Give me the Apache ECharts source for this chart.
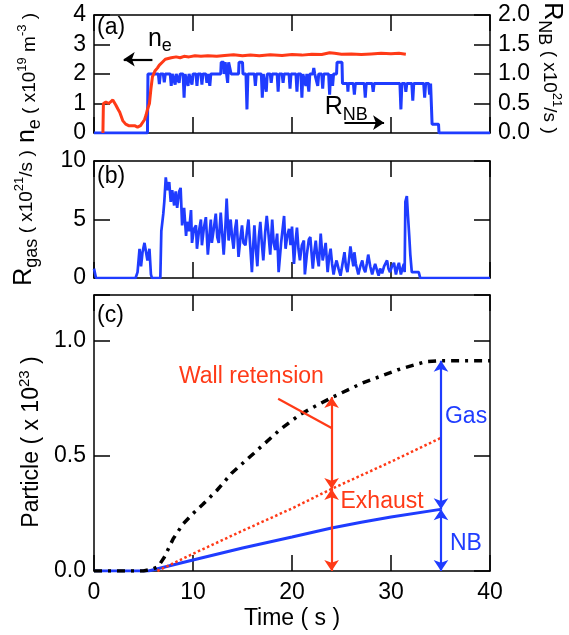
<!DOCTYPE html>
<html>
<head>
<meta charset="utf-8">
<script src="https://cdn.jsdelivr.net/npm/echarts/dist/echarts.min.js"></script>
<style>
html, body { margin: 0; padding: 0; background: #fff; }
#main { width: 569px; height: 635px; }
</style>
</head>
<body>
<div id="main"></div>
<script>
// (a) electron density n_e (x10^19 m^-3), [time s, value]
var neData = [[0.9,0],[0.95,1.0],[1.2,1.05],[1.5,1.0],[1.9,1.12],[2.2,0.95],[2.4,0.82],[2.6,0.7],[2.9,0.42],[3.2,0.3],[3.5,0.25],[3.7,0.22],[4.1,0.25],[4.4,0.2],[4.7,0.25],[4.9,0.3],[5.1,0.45],[5.25,0.6],[5.4,0.8],[5.6,1.0],[5.75,1.5],[5.9,1.9],[6.15,2.1],[6.4,2.2],[6.6,2.3],[6.9,2.4],[7.2,2.5],[7.4,2.52],[7.8,2.55],[8.3,2.58],[8.7,2.55],[9.1,2.6],[9.6,2.58],[10.2,2.62],[10.8,2.6],[11.5,2.62],[12.4,2.6],[13.2,2.63],[14.1,2.65],[15,2.62],[15.8,2.64],[16.7,2.62],[17.8,2.65],[19,2.63],[20,2.66],[21,2.64],[22,2.67],[23,2.66],[23.8,2.72],[24.3,2.7],[25,2.67],[26,2.68],[27,2.66],[28,2.68],[29,2.7],[30,2.69],[30.8,2.7],[31.5,2.67]];

// (a) NB particle rate R_NB (x10^21/s)
var nbRate = [[0,0],[5.4,0],[5.45,1.0],[6.5,1.0],[6.6,0.83],[6.7,1.0],[7.0,1.0],[7.1,0.86],[7.2,1.0],[7.7,1.0],[7.8,0.8],[7.9,1.0],[8.1,1.0],[8.2,0.82],[8.3,1.0],[8.5,1.0],[8.6,0.85],[8.7,1.0],[9.0,1.0],[9.1,0.6],[9.2,1.0],[9.4,1.0],[9.5,0.8],[9.6,1.0],[9.8,1.0],[9.9,0.82],[10.0,1.0],[10.3,1.0],[10.4,0.8],[10.5,1.0],[10.8,1.0],[10.9,0.82],[11.0,1.0],[11.3,1.0],[11.4,0.85],[11.5,1.0],[11.6,1.0],[11.7,0.8],[11.8,1.0],[12.8,1.0],[12.85,1.2],[13.1,1.2],[13.15,1.0],[13.25,1.2],[13.4,1.2],[13.5,0.85],[13.6,1.2],[13.8,1.2],[13.85,1.0],[14.6,1.0],[14.65,1.2],[15.0,1.2],[15.05,1.0],[15.35,1.0],[15.45,0.4],[15.55,1.0],[16.2,1.0],[16.3,0.8],[16.4,1.0],[16.9,1.0],[17.0,0.6],[17.1,1.0],[17.3,1.0],[17.4,0.7],[17.5,1.0],[17.8,1.0],[17.9,0.85],[18.0,1.0],[18.5,1.0],[18.6,0.7],[18.7,1.0],[19.0,1.0],[19.1,0.85],[19.2,1.0],[19.7,1.0],[19.8,0.75],[19.9,1.0],[20.4,1.0],[20.5,0.7],[20.6,1.0],[20.9,1.0],[21.0,0.6],[21.1,1.0],[21.3,1.0],[21.4,0.8],[21.5,1.0],[21.6,1.0],[21.7,0.7],[21.8,1.0],[22.1,1.0],[22.2,1.1],[22.3,1.0],[22.5,1.0],[22.6,0.8],[22.7,1.0],[23.0,1.0],[23.1,0.75],[23.2,1.0],[23.7,1.0],[23.8,0.65],[23.9,1.0],[24.0,1.0],[24.1,0.8],[24.2,1.0],[24.5,1.0],[24.55,1.2],[25.05,1.2],[25.1,0.84],[25.6,0.84],[25.65,0.7],[25.7,0.84],[26.2,0.84],[26.3,0.65],[26.4,0.84],[27.3,0.84],[27.4,0.6],[27.5,0.84],[28.1,0.84],[28.2,0.7],[28.3,0.84],[30.9,0.84],[31.0,0.4],[31.1,0.84],[31.4,0.84],[31.5,0.7],[31.6,0.84],[32.1,0.84],[32.2,0.55],[32.3,0.84],[33.3,0.84],[33.4,0.6],[33.5,0.84],[33.8,0.84],[33.9,0.65],[34.0,0.84],[34.1,0.84],[34.15,0.15],[34.8,0.15],[34.85,0],[40,0]];

// (b) gas puff rate R_gas (x10^21/s)
var gasRate = [[0,0.8],[0.15,0.8],[0.2,0],[4.2,0],[4.4,0.5],[4.6,2.5],[4.75,1.0],[4.9,2.2],[5.1,3.0],[5.25,2.9],[5.4,1.5],[5.6,2.5],[5.75,0.3],[5.85,0],[6.7,0],[6.8,4.0],[7.0,5.5],[7.1,6.5],[7.25,8.6],[7.4,7.5],[7.6,8.2],[7.75,6.5],[7.9,7.5],[8.1,6.2],[8.25,7.4],[8.4,6.0],[8.6,7.4],[8.75,7.7],[8.9,4.5],[9.1,6.0],[9.3,3.6],[9.4,4.8],[9.6,4.0],[9.8,5.8],[9.9,3.0],[10.1,4.2],[10.3,4.5],[10.4,2.5],[10.6,4.0],[10.8,5.0],[10.9,2.8],[11.1,4.3],[11.3,5.2],[11.5,2.0],[11.7,4.0],[11.8,5.0],[11.9,3.0],[12.1,4.2],[12.3,5.5],[12.45,3.5],[12.6,3.0],[12.8,5.6],[12.95,3.8],[13.1,2.0],[13.25,4.0],[13.4,6.8],[13.6,3.2],[13.8,5.0],[13.95,3.5],[14.1,2.5],[14.25,4.2],[14.4,5.0],[14.6,1.8],[14.8,3.5],[14.95,4.5],[15.1,3.0],[15.3,2.8],[15.45,4.0],[15.6,5.0],[15.8,2.5],[15.95,0.5],[16.1,3.0],[16.2,4.5],[16.35,2.5],[16.5,1.0],[16.65,3.5],[16.8,4.8],[16.95,3.0],[17.1,1.5],[17.3,4.0],[17.45,5.3],[17.6,4.0],[17.8,2.0],[18.0,5.0],[18.15,3.0],[18.3,2.4],[18.5,3.8],[18.65,0.5],[18.9,3.0],[19.2,5.3],[19.35,2.5],[19.5,3.5],[19.7,4.2],[19.85,2.8],[20.0,4.4],[20.2,1.2],[20.35,3.0],[20.5,4.3],[20.65,2.5],[20.8,1.5],[21.0,2.8],[21.2,3.2],[21.3,0.3],[21.5,2.0],[21.7,3.3],[21.85,3.5],[22.1,0.8],[22.25,2.2],[22.4,3.2],[22.55,1.8],[22.7,1.0],[22.9,3.8],[23.1,1.5],[23.25,2.2],[23.4,3.0],[23.6,0.5],[23.75,1.8],[23.9,2.5],[24.05,1.2],[24.2,0.3],[24.35,1.0],[24.5,1.5],[24.7,0.8],[24.9,0.2],[25.1,1.2],[25.3,2.2],[25.45,1.0],[25.6,0.5],[25.75,1.5],[25.9,2.7],[26.05,1.8],[26.2,1.0],[26.3,2.2],[26.45,1.2],[26.7,0.3],[26.9,1.0],[27.1,1.5],[27.25,0.8],[27.4,0.5],[27.55,1.2],[27.7,2.0],[27.9,1.0],[28.1,0.3],[28.25,0.8],[28.4,1.2],[28.6,0.6],[28.75,0.2],[28.9,0.8],[29.1,0.4],[29.3,1.0],[29.6,1.5],[29.75,0.8],[29.9,0.5],[30.1,1.0],[30.3,1.3],[30.5,0.3],[30.65,0.9],[30.8,1.3],[31.0,0.3],[31.15,0.8],[31.3,1.2],[31.38,0.5],[31.45,6.5],[31.6,7.0],[31.7,5.5],[31.85,3.5],[31.95,2.0],[32.1,0.5],[32.8,0.5],[32.95,0],[40,0]];

// (c) cumulative particles (x10^23)
var gasTotal = [[0,0],[5,0],[6,0.01],[6.5,0.02],[7.1,0.06],[8,0.14],[9,0.205],[10,0.25],[11,0.29],[12.4,0.35],[13.9,0.425],[16.1,0.51],[18.8,0.615],[20.8,0.68],[22.5,0.72],[24.1,0.756],[27.1,0.817],[30.7,0.875],[33.5,0.91],[34.9,0.914],[40,0.914]];
var exhaustTotal = [[6.4,0],[10,0.075],[15,0.175],[20,0.272],[24,0.357],[30,0.475],[35,0.578]];
var nbTotal = [[0,0],[5.5,0],[10,0.048],[15,0.1],[20,0.148],[24,0.187],[27,0.212],[30,0.235],[35,0.268]];

// (c) annotation arrows: time and levels
var wallT = 24, wallLevels = [0, 0.357, 0.756];
var gasT = 35.05, gasLevels = [0, 0.268, 0.914];

var xTicks = [0, 10, 20, 30, 40];

var blue = '#1f3cff';
var red = '#ff3a17';
var ff = '"Liberation Sans", Arial, Helvetica, sans-serif';

var chart = echarts.init(document.getElementById('main'));

function xAx(g, pos, labels, extra) {
    var a = {
        type: 'value', gridIndex: g, position: pos,
        min: xTicks[0], max: xTicks[xTicks.length - 1], interval: 10,
        axisLine: { show: true, onZero: false, lineStyle: { color: '#000', width: 1.5 } },
        axisTick: { show: true, inside: true, length: 16, lineStyle: { color: '#000', width: 1.5 } },
        axisLabel: { show: labels, color: '#000', fontSize: 23, fontFamily: ff, margin: 10 },
        splitLine: { show: false }
    };
    return Object.assign(a, extra || {});
}

function yAx(g, pos, min, max, step, labels, fmt) {
    return {
        type: 'value', gridIndex: g, position: pos,
        min: min, max: max, interval: step,
        axisLine: { show: true, onZero: false, lineStyle: { color: '#000', width: 1.5 } },
        axisTick: { show: true, inside: true, length: 16, lineStyle: { color: '#000', width: 1.5 } },
        axisLabel: { show: labels, color: '#000', fontSize: 23, fontFamily: ff, margin: 8, formatter: fmt },
        splitLine: { show: false }
    };
}

function onStep(step, digits) {
    return function (v) {
        var r = Math.round(v / step);
        if (Math.abs(r * step - v) > 1e-6) return '';
        return digits ? v.toFixed(digits) : String(v);
    };
}

function arrows(color, pairs, sym, xi, yi) {
    return {
        type: 'lines', coordinateSystem: 'cartesian2d', xAxisIndex: xi, yAxisIndex: yi,
        symbol: sym, symbolSize: 11, silent: true, z: 5,
        lineStyle: { color: color, width: 2.2, opacity: 1, curveness: 0 },
        data: pairs.map(function (p) { return { coords: p }; })
    };
}

var option = {
    animation: false,
    backgroundColor: '#fff',
    textStyle: { fontFamily: ff },
    grid: [
        { left: 94, width: 396, top: 15, height: 118, outerBoundsMode: 'none' },
        { left: 94, width: 396, top: 161, height: 117, outerBoundsMode: 'none' },
        { left: 94, width: 396, top: 295, height: 276, outerBoundsMode: 'none' }
    ],
    xAxis: [
        xAx(0, 'bottom', false), xAx(0, 'top', false),
        xAx(1, 'bottom', false), xAx(1, 'top', false),
        xAx(2, 'bottom', true, {
            name: 'Time ( s )', nameLocation: 'middle', nameGap: 36,
            nameTextStyle: { color: '#000', fontSize: 23, fontFamily: ff }
        }),
        xAx(2, 'top', false)
    ],
    yAxis: [
        yAx(0, 'left', 0, 4, 1, true, onStep(1, 0)),
        yAx(0, 'right', 0, 2, 0.5, true, onStep(0.5, 1)),
        yAx(1, 'left', 0, 10, 5, true, onStep(5, 0)),
        yAx(1, 'right', 0, 10, 5, false),
        yAx(2, 'left', 0, 1.2, 0.5, true, onStep(0.5, 1)),
        yAx(2, 'right', 0, 1.2, 0.5, false)
    ],
    series: [
        { type: 'line', xAxisIndex: 0, yAxisIndex: 1, data: nbRate, showSymbol: false, symbol: 'none',
          lineStyle: { color: blue, width: 3 }, itemStyle: { color: blue } },
        { type: 'line', xAxisIndex: 0, yAxisIndex: 0, data: neData, showSymbol: false, symbol: 'none',
          lineStyle: { color: red, width: 3 }, itemStyle: { color: red } },
        { type: 'line', xAxisIndex: 2, yAxisIndex: 2, data: gasRate, showSymbol: false, symbol: 'none',
          lineStyle: { color: blue, width: 2.7 }, itemStyle: { color: blue } },
        { type: 'line', xAxisIndex: 4, yAxisIndex: 4, data: nbTotal, showSymbol: false, symbol: 'none',
          lineStyle: { color: blue, width: 3 }, itemStyle: { color: blue } },
        { type: 'line', xAxisIndex: 4, yAxisIndex: 4, data: exhaustTotal, showSymbol: false, symbol: 'none',
          lineStyle: { color: red, width: 2.5, type: [2.5, 2.5] }, itemStyle: { color: red } },
        { type: 'line', xAxisIndex: 4, yAxisIndex: 4, data: gasTotal, showSymbol: false, symbol: 'none',
          lineStyle: { color: '#000', width: 3.5, type: [8, 6, 3, 6] }, itemStyle: { color: '#000' } },
        // (a) pointer arrows
        arrows('#000', [[[5.9, 2.5], [3.0, 2.5]], [[25.3, 0.35], [29.3, 0.35]]], ['none', 'arrow'], 0, 0),
        // (c) wall retension / exhaust arrows
        arrows(red, [[[wallT, wallLevels[0]], [wallT, wallLevels[1]]], [[wallT, wallLevels[1]], [wallT, wallLevels[2]]]], ['arrow', 'arrow'], 4, 4),
        arrows(blue, [[[gasT, gasLevels[0]], [gasT, gasLevels[1]]], [[gasT, gasLevels[1]], [gasT, gasLevels[2]]]], ['arrow', 'arrow'], 4, 4),
        arrows(red, [[[18.6, 0.749], [24, 0.622]]], ['none', 'none'], 4, 4)
    ]
};
chart.setOption(option);

// rich text token, top-aligned, with baseline at 'base' px below the line top
function tok(size, base, color) {
    return { fontSize: size, fontFamily: ff, color: color || '#000', verticalAlign: 'top',
             padding: [Math.max(0, base - 0.8 * size), 0, 0, 0] };
}
var BASE = 28;
var richSet = {
    b: tok(25, BASE), s: tok(18, BASE + 5), m: tok(19, BASE), p: tok(13, BASE - 9),
    L: tok(23, BASE), q: tok(15, BASE - 10)
};

function px(axisIdx, pt) {
    return chart.convertToPixel({ xAxisIndex: axisIdx, yAxisIndex: axisIdx }, pt);
}

var notes = [
    { ax: 0, at: [0.3, 3.56], text: '(a)', color: '#000', align: 'left' },
    { ax: 2, at: [0.3, 8.7], text: '(b)', color: '#000', align: 'left' },
    { ax: 4, at: [0.3, 1.11], text: '(c)', color: '#000', align: 'left' },
    { ax: 4, at: [15.9, 0.846], text: 'Wall retension', color: red, align: 'center' },
    { ax: 4, at: [24.9, 0.30], text: 'Exhaust', color: red, align: 'left' },
    { ax: 4, at: [35.45, 0.67], text: 'Gas', color: blue, align: 'left' },
    { ax: 4, at: [35.96, 0.12], text: 'NB', color: blue, align: 'left' }
];

var graphics = notes.map(function (n) {
    var p = px(n.ax, n.at);
    return { type: 'text', x: p[0], y: p[1], silent: true,
             style: { text: n.text, fill: n.color, font: '23px ' + ff, align: n.align, verticalAlign: 'middle' } };
});

// in-plot labels with subscripts, anchored at the baseline
var subNotes = [
    { ax: 0, at: [5.45, 2.92], text: '{b|n}{s|e}' },
    { ax: 0, at: [23.3, 0.61], text: '{b|R}{s|NB}' }
];
subNotes.forEach(function (n) {
    var p = px(n.ax, n.at);
    graphics.push({ type: 'text', x: p[0], y: p[1] - BASE, silent: true,
        style: { text: n.text, align: 'left', verticalAlign: 'top', rich: richSet } });
});

// axis titles (anchor = baseline centre)
var titles = [
    { x: 35, y: 78, rot: Math.PI / 2, text: '{b|n}{s|e}{m| ( x10}{p|19}{m| m}{p|-3}{m| )}' },
    { x: 32, y: 218, rot: Math.PI / 2, text: '{b|R}{s|gas}{m| ( x10}{p|21}{m|/s )}' },
    { x: 39, y: 442, rot: Math.PI / 2, text: '{L|Particle ( x 10}{q|23}{L| )}' },
    { x: 544, y: 68, rot: -Math.PI / 2, text: '{b|R}{s|NB}{m| ( x10}{p|21}{m|/s )}' }
];
titles.forEach(function (t) {
    // shift from baseline to the top of the line box along the text's up direction
    var dx = Math.sin(t.rot) * BASE, dy = Math.cos(t.rot) * BASE;
    graphics.push({ type: 'text', x: t.x - dx, y: t.y - dy, rotation: t.rot, silent: true,
        style: { text: t.text, align: 'center', verticalAlign: 'top', rich: richSet } });
});

chart.setOption({ graphic: graphics });
</script>
</body>
</html>
